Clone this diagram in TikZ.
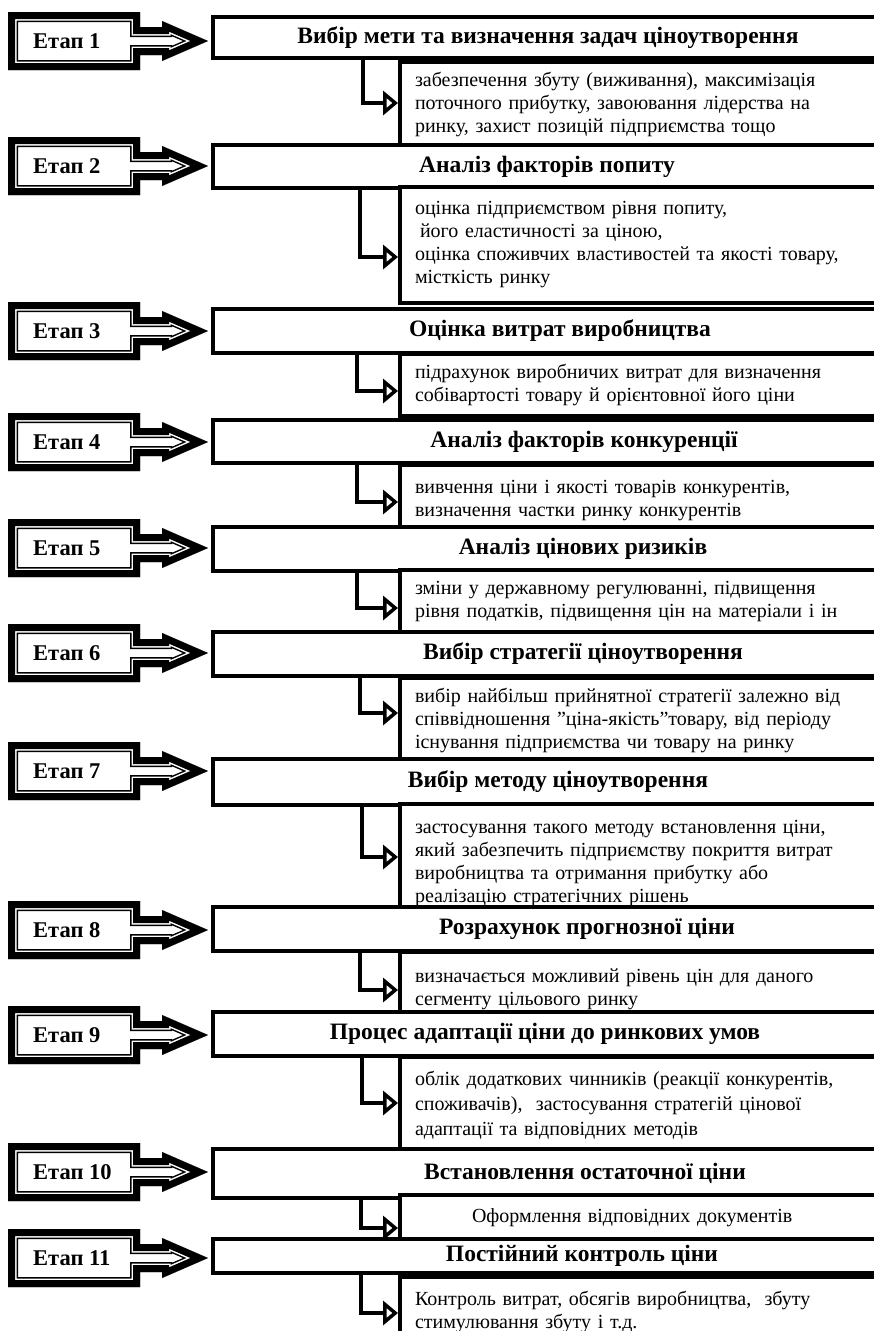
\documentclass[tikz,border=0pt]{standalone}
\usepackage{fontspec}
\setmainfont{Liberation Serif}
\usetikzlibrary{arrows.meta}

% outline of one "Етап" box with its block arrow, centred at y=#1
\newcommand\etapoutline[1]{(8,#1-29) -- (140,#1-29) -- (140,#1-14) -- (162,#1-14) -- (162,#1-20) -- (208,#1) -- (162,#1+20) -- (162,#1+14) -- (140,#1+14) -- (140,#1+29) -- (8,#1+29) -- cycle}

\tikzset{
  etapline/.style={line join=miter, miter limit=20},
  etaplabel/.style={anchor=west, inner sep=0pt, font=\fontsize{22.5}{24}\selectfont\bfseries},
  titlebox/.style={draw, line width=4pt, fill=white, anchor=west, inner sep=0pt, font=\fontsize{23.5}{26}\selectfont\bfseries},
  descbox/.style={draw, line width=4pt, fill=white, anchor=north west, inner xsep=15pt, inner ysep=0pt, text width=520pt, align=left, font=\fontsize{20}{23}\selectfont},
  link/.style={line width=4pt, line join=miter, -{Triangle[open, length=15pt, width=24pt, line width=3.5pt]}}
}

\begin{document}
\begin{tikzpicture}[x=1pt, y=-1pt]
\useasboundingbox (0,0) rectangle (874,1331);
\clip (0,0) rectangle (874,1331);

% stage boxes with block arrows
\foreach \yc [count=\i] in {41,166,331,442,548,653,771,930,1035,1172,1258} {
  \begin{scope}
    \clip \etapoutline{\yc};
    \draw[etapline, line width=20pt] \etapoutline{\yc};
    \draw[etapline, line width=17pt, white] \etapoutline{\yc};
    \draw[etapline, line width=14pt] \etapoutline{\yc};
  \end{scope}
  \node[etaplabel] (e\i) at (33,\yc) {Етап \i};
}

% titles and descriptions
\node[titlebox, minimum width=670pt, minimum height=41pt] (t1) at (211,37.5) {Вибір мети та визначення задач ціноутворення};
\node[descbox, minimum height=84pt] (d1) at (398,60) {забезпечення збуту (виживання), максимізація\\поточного прибутку, завоювання лідерства на\\ринку, захист позицій підприємства тощо};

\node[titlebox, minimum width=668pt, minimum height=43pt] (t2) at (211,166.5) {Аналіз факторів попиту};
\node[descbox, minimum height=116pt] (d2) at (398,185) {оцінка підприємством рівня попиту,\\\hspace*{5pt}його еластичності за ціною,\\оцінка споживчих властивостей та якості товару,\\місткість ринку};

\node[titlebox, minimum width=694pt, minimum height=44pt] (t3) at (211,331) {Оцінка витрат виробництва};
\node[descbox, minimum height=62pt] (d3) at (398,352) {підрахунок виробничих витрат для визначення\\собівартості товару й орієнтовної його ціни};

\node[titlebox, minimum width=742pt, minimum height=43pt] (t4) at (211,441.5) {Аналіз факторів конкуренції};
\node[descbox, minimum height=72pt] (d4) at (398,463) {вивчення ціни і якості товарів конкурентів,\\визначення частки ринку конкурентів};

\node[titlebox, minimum width=740pt, minimum height=44pt] (t5) at (211,549) {Аналіз цінових ризиків};
\node[descbox, minimum height=62pt] (d5) at (398,568) {зміни у державному регулюванні, підвищення\\рівня податків, підвищення цін на матеріали і ін};

\node[titlebox, minimum width=740pt, minimum height=44pt] (t6) at (211,654) {Вибір стратегії ціноутворення};
\node[descbox, minimum height=84pt] (d6) at (398,676) {вибір найбільш прийнятної стратегії залежно від\\співвідношення "ціна-якість"товару, від періоду\\існування підприємства чи товару на ринку};

\node[titlebox, minimum width=690pt, minimum height=46pt] (t7) at (211,782) {Вибір методу ціноутворення};
\node[descbox, minimum height=118pt] (d7) at (398,802) {застосування такого методу встановлення ціни,\\який забезпечить підприємству покриття витрат\\виробництва та отримання прибутку або\\реалізацію стратегічних рішень};

\node[titlebox, minimum width=748pt, minimum height=44pt] (t8) at (211,929) {Розрахунок прогнозної ціни};
\node[descbox, minimum height=74pt] (d8) at (398,950) {визначається можливий рівень цін для даного\\сегменту цільового ринку};

\node[titlebox, minimum width=664pt, minimum height=44pt] (t9) at (211,1034) {Процес адаптації ціни до ринкових умов};
\node[descbox, minimum height=96pt, font=\fontsize{20}{25}\selectfont] (d9) at (398,1055) {облік додаткових чинників (реакції конкурентів,\\споживачів),~ застосування стратегій цінової\\адаптації та відповідних методів};

\node[titlebox, minimum width=744pt, minimum height=49pt] (t10) at (211,1173.5) {Встановлення остаточної ціни};
\node[descbox, minimum height=46pt] (d10) at (398,1193) {\hspace*{57pt}Оформлення відповідних документів};

\node[titlebox, minimum width=738pt, minimum height=34pt] (t11) at (211,1256) {Постійний контроль ціни};
\node[descbox, minimum height=69pt] (d11) at (398,1275) {Контроль витрат, обсягів виробництва,~ збуту\\стимулювання збуту і т.д.};

% elbow links from titles to descriptions
\draw[link] (t1.south -| 363,0) |- (d1.west |- 0,103);
\draw[link] (t2.south -| 360,0) |- (d2.west |- 0,257);
\draw[link] (t3.south -| 357,0) |- (d3.west |- 0,391);
\draw[link] (t4.south -| 357,0) |- (d4.west |- 0,502);
\draw[link] (t5.south -| 357,0) |- (d5.west |- 0,608);
\draw[link] (t6.south -| 360,0) |- (d6.west |- 0,713);
\draw[link] (t7.south -| 362,0) |- (d7.west |- 0,857);
\draw[link] (t8.south -| 360,0) |- (d8.west |- 0,990);
\draw[link] (t9.south -| 362,0) |- (d9.west |- 0,1103);
\draw[link] (t10.south -| 361,0) |- (d10.west |- 0,1228);
\draw[link] (t11.south -| 361,0) |- (d11.west |- 0,1313);
\end{tikzpicture}
\end{document}
